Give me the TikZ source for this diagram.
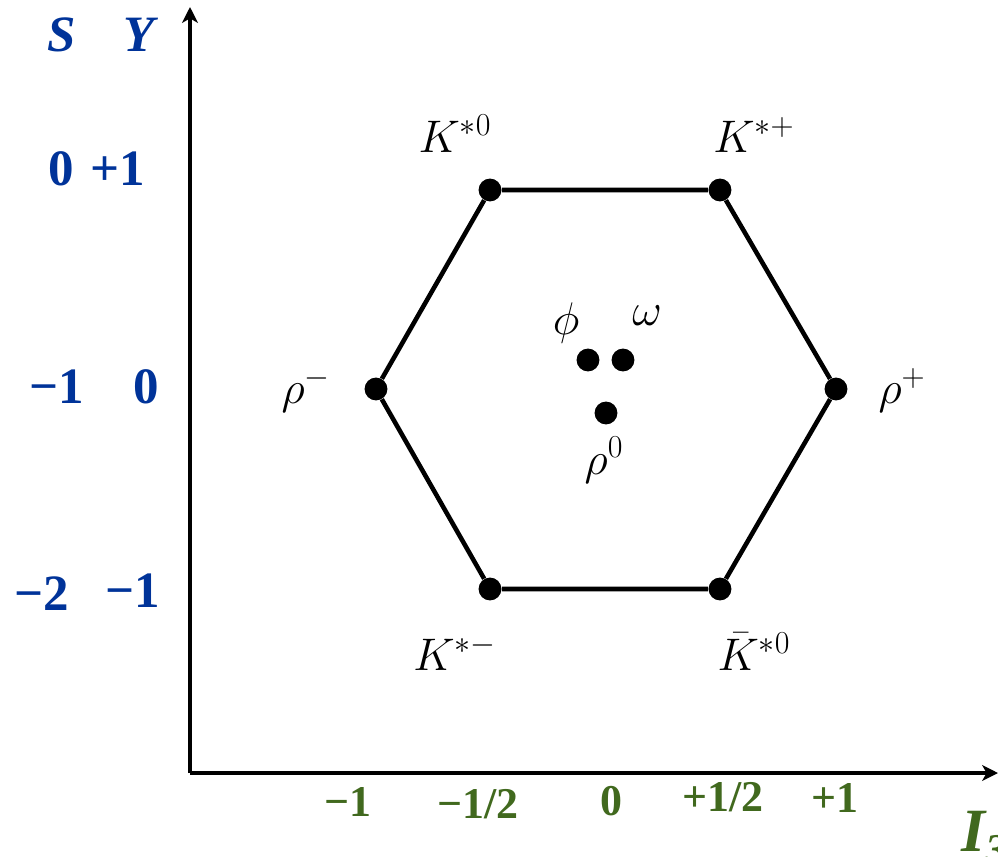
\RequirePackage{fix-cm}
\documentclass[tikz,border=0pt]{standalone}
\usepackage{fontspec}
\newfontfamily\timesf{Liberation Serif}
\usetikzlibrary{arrows.meta}
\definecolor{axblue}{HTML}{003399}
\definecolor{axgreen}{HTML}{41691E}
\tikzset{
  axisline/.style={line width=2.4pt, -{Stealth[length=9pt,width=9pt,inset=2.5pt]}},
  hexline/.style={line width=2.6pt},
  dot/.style={circle, fill=black, inner sep=0pt, minimum size=13pt},
  plabel/.style={anchor=base, inner sep=0pt, font=\fontsize{26}{30}\selectfont},
  blab/.style={anchor=base, inner sep=0pt, text=axblue, font=\timesf\bfseries\fontsize{29}{34}\selectfont},
  glab/.style={anchor=base, inner sep=0pt, text=axgreen, font=\timesf\bfseries\fontsize{25}{30}\selectfont},
}
\begin{document}
\begin{tikzpicture}[x=0.02cm, y=-0.02cm]
\useasboundingbox (0,0) rectangle (998,856);
% axes
\coordinate (O) at (190,773);
\coordinate (ytip) at (190,7);
\coordinate (xtip) at (998,773);
\draw[axisline] (O) -- (ytip);
\draw[axisline] (O) -- (xtip);
% hexagon vertices
\node[dot] (kz) at (490,190) {};
\node[dot] (kp) at (720,190) {};
\node[dot] (rp) at (836,389) {};
\node[dot] (kbz) at (720,589) {};
\node[dot] (km) at (490,589) {};
\node[dot] (rm) at (376,389) {};
\draw[hexline] (kz) -- (kp) -- (rp) -- (kbz) -- (km) -- (rm) -- (kz);
% centre
\node[dot] (phi) at (588,360) {};
\node[dot] (om) at (623,360) {};
\node[dot] (rz) at (606,413) {};
% particle labels
\node[plabel] (lkz) at (455,152) {$K^{*0}$};
\node[plabel] (lkp) at (754,152) {$K^{*+}$};
\node[plabel] (lkm) at (455,670) {$K^{*-}$};
\node[plabel] (lkbz) at (754,670) {$\bar{K}^{*0}$};
\node[plabel] (lrm) at (306,403) {$\rho^{-}$};
\node[plabel] (lrp) at (902,403) {$\rho^{+}$};
\node[plabel] (lphi) at (566,334) {$\phi$};
\node[plabel] (lom) at (647,325) {$\omega$};
\node[plabel] (lrz) at (604,474) {$\rho^{0}$};
% left axis labels
\node[blab, font=\timesf\bfseries\itshape\fontsize{29}{34}\selectfont] (S) at (62,51) {S};
\node[blab, font=\timesf\bfseries\itshape\fontsize{29}{34}\selectfont] (Y) at (139,51) {Y};
\node[blab] (s1) at (61,185) {0};
\node[blab] (y1) at (118,185) {+1};
\node[blab] (s2) at (57,403) {−1};
\node[blab] (y2) at (146,403) {0};
\node[blab] (s3) at (42,610) {−2};
\node[blab] (y3) at (133,607) {−1};
% bottom axis labels
\node[glab] (i1) at (348,816) {−1};
\node[glab] (i2) at (478,818) {−1/2};
\node[glab] (i3) at (611,815) {0};
\node[glab] (i4) at (723,811) {+1/2};
\node[glab] (i5) at (835,812) {+1};
\node[anchor=base west, inner sep=0pt, text=axgreen, font=\timesf\bfseries\itshape\fontsize{35}{40}\selectfont] (I3) at (961,851) {I\raisebox{-0.22em}{\fontsize{25}{30}\selectfont 3}};
\end{tikzpicture}
\end{document}
